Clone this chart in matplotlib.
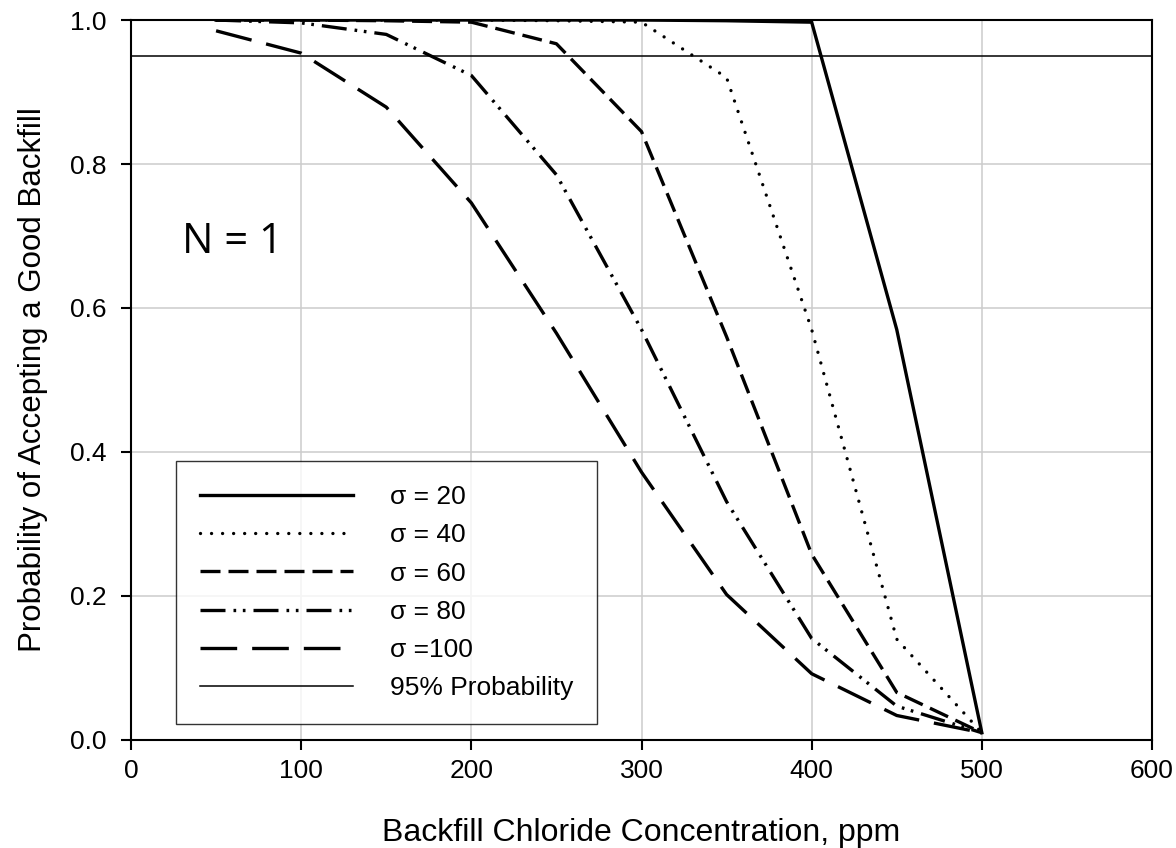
import matplotlib.pyplot as plt
import numpy as np

plt.rcParams['font.family'] = ['Liberation Sans', 'DejaVu Sans']

conc = [50, 100, 150, 200, 250, 300, 350, 400, 450, 500]

p_sigma20 = [1.0, 1.0, 1.0, 1.0, 1.0, 1.0, 0.999, 0.997, 0.57, 0.01]
p_sigma40 = [1.0, 1.0, 1.0, 1.0, 0.999, 0.997, 0.92, 0.57, 0.14, 0.01]
p_sigma60 = [1.0, 1.0, 0.999, 0.997, 0.967, 0.845, 0.56, 0.258, 0.066, 0.01]
p_sigma80 = [1.0, 0.996, 0.98, 0.923, 0.785, 0.57, 0.331, 0.141, 0.047, 0.01]
p_sigma100 = [0.985, 0.954, 0.879, 0.746, 0.565, 0.372, 0.202, 0.092, 0.034, 0.01]

labels = ['\u03c3 = 20', '\u03c3 = 40', '\u03c3 = 60', '\u03c3 = 80', '\u03c3 =100']
target = 0.95

fig = plt.figure(figsize=(11.76, 8.48), dpi=100)
ax = fig.add_axes([0.1114, 0.1274, 0.8682, 0.849])

lw = 2.4
ax.plot(conc, p_sigma20, color='black', lw=lw, solid_joinstyle='miter', label=labels[0])
ax.plot(conc, p_sigma40, color='black', lw=lw, dashes=(0.01, 3.3),
        dash_capstyle='round', label=labels[1])
ax.plot(conc, p_sigma60, color='black', lw=lw, dashes=(6, 2.4), label=labels[2])
ax.plot(conc, p_sigma80, color='black', lw=lw,
        dashes=(7.5, 2.4, 0.8, 2.0, 0.8, 2.4), label=labels[3])
ax.plot(conc, p_sigma100, color='black', lw=lw, dashes=(11, 4.5), label=labels[4])
ax.axhline(target, color='black', lw=1.1, label='95% Probability')

ax.set_xlim(0, 600)
ax.set_ylim(0, 1.0)
ax.set_xticks(np.arange(0, 601, 100))
ax.set_yticks(np.arange(0, 1.01, 0.2))
ax.set_yticklabels([f'{v:.1f}' for v in np.arange(0, 1.01, 0.2)])
ax.grid(True, color='#cccccc', lw=1.1)
ax.set_axisbelow(True)

for s in ax.spines.values():
    s.set_linewidth(1.5)
ax.tick_params(axis='both', direction='out', length=7.5, width=1.5, labelsize=19)
ax.tick_params(axis='x', pad=6.5)
ax.tick_params(axis='y', pad=10, right=False)

ax.set_xlabel('Backfill Chloride Concentration, ppm', fontsize=23, labelpad=25)
ax.set_ylabel('Probability of Accepting a Good Backfill', fontsize=22.5, labelpad=16)

ax.text(30, 0.676, 'N = 1', fontsize=30, family=['Open Sans', 'DejaVu Sans'])

leg = ax.legend(loc='lower left', bbox_to_anchor=(0.044, 0.022), fontsize=19,
                handlelength=5.8, handletextpad=1.4, labelspacing=0.54,
                frameon=True, fancybox=False, borderpad=0.9, borderaxespad=0)
leg.get_frame().set_edgecolor('black')
leg.get_frame().set_linewidth(1.0)

fig.savefig('out.png', dpi=100)
